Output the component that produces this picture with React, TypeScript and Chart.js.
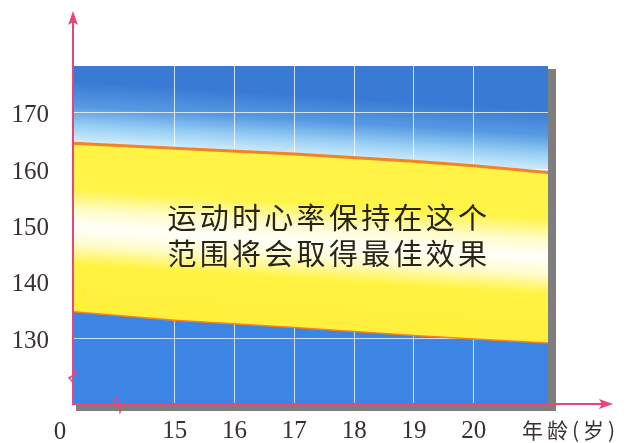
import React, { useEffect, useRef } from "react";
import { Chart, registerables } from "chart.js";

Chart.register(...registerables);

// ---- data ----
const ages = [13.3, 15, 17, 19, 20, 21.24];
const upperRate = [164.6, 163.7, 162.7, 161.4, 160.6, 159.4];
const lowerRate = [134.8, 133.3, 132.0, 130.6, 129.95, 129.25];
const xTickValues = [15, 16, 17, 18, 19, 20];
const yTickValues = [130, 140, 150, 160, 170];
const xRange = [13.3, 21.24];
const yRange = [118.3, 178.3];
const noteLines = ["运动时心率保持在这个", "范围将会取得最佳效果"];
const notePos = { x: 17.55, y: [151.4, 144.9] };
const xTitle = "年龄(岁)";
const originLabel = "0";

const PINK = "#e8457a";
const ORANGE = "rgb(246,128,36)";
const YELLOW = "rgb(255,242,62)";
const BLUE_BOTTOM = "rgb(60,133,228)";
const SERIF = "'Liberation Serif', 'DejaVu Serif', serif";
const CJK = "'Noto Sans CJK SC', sans-serif";

function lineEnds(chart: any, vals: number[]) {
  const x = chart.scales.x;
  const y = chart.scales.y;
  const n = vals.length - 1;
  return {
    xl: x.getPixelForValue(ages[0]),
    xr: x.getPixelForValue(ages[n]),
    yl: y.getPixelForValue(vals[0]),
    yr: y.getPixelForValue(vals[n]),
  };
}

function bandFill(c: any) {
  const chart = c.chart;
  if (!chart.chartArea || !chart.scales.x) return YELLOW;
  const u = lineEnds(chart, upperRate);
  const l = lineEnds(chart, lowerRate);
  const ctx = chart.ctx;
  const cx = (u.xl + u.xr) / 2;
  const cu = (u.yl + u.yr) / 2;
  const cl = (l.yl + l.yr) / 2;
  const dx = u.xr - u.xl;
  const dy = (u.yr + l.yr) / 2 - (u.yl + l.yl) / 2;
  const len = Math.hypot(dx, dy);
  const nx = -dy / len;
  const ny = dx / len;
  const th = (cl - cu) * ny;
  const cy = (cu + cl) / 2;
  const g = ctx.createLinearGradient(
    cx - (nx * th) / 2,
    cy - (ny * th) / 2,
    cx + (nx * th) / 2,
    cy + (ny * th) / 2
  );
  g.addColorStop(0, "rgb(255,243,70)");
  g.addColorStop(0.27, "rgb(255,244,72)");
  g.addColorStop(0.4, "rgb(255,252,205)");
  g.addColorStop(0.5, "rgb(255,255,250)");
  g.addColorStop(0.6, "rgb(255,252,205)");
  g.addColorStop(0.72, "rgb(255,243,66)");
  g.addColorStop(1, "rgb(255,240,60)");
  return g;
}

const decor = {
  id: "decor",
  beforeDraw(chart: any) {
    const { ctx, chartArea: ca } = chart;
    ctx.save();
    // shadow
    ctx.fillStyle = "rgb(126,126,126)";
    ctx.fillRect(ca.left + 3, ca.top + 3, ca.width + 5, ca.height + 4);
    // bottom blue
    ctx.fillStyle = BLUE_BOTTOM;
    ctx.fillRect(ca.left, ca.top, ca.width, ca.height);
    // upper gradient region
    const u = lineEnds(chart, upperRate);
    const l = lineEnds(chart, lowerRate);
    const dx = u.xr - u.xl;
    const dy = u.yr - u.yl;
    const len = Math.hypot(dx, dy);
    const nux = dy / len;
    const nuy = -dx / len;
    const g = ctx.createLinearGradient(u.xl, u.yl, u.xl + nux * 62, u.yl + nuy * 62);
    g.addColorStop(0, "rgb(214,240,252)");
    g.addColorStop(0.3, "rgb(150,205,243)");
    g.addColorStop(0.6, "rgb(86,153,226)");
    g.addColorStop(1, "rgb(57,123,212)");
    ctx.fillStyle = g;
    ctx.beginPath();
    ctx.moveTo(ca.left, ca.top);
    ctx.lineTo(ca.right, ca.top);
    ctx.lineTo(ca.right, (u.yr + l.yr) / 2);
    ctx.lineTo(ca.left, (u.yl + l.yl) / 2);
    ctx.closePath();
    ctx.fill();
    ctx.restore();
  },
  afterDraw(chart: any) {
    const { ctx, chartArea: ca, scales } = chart;
    ctx.save();
    // note text
    ctx.fillStyle = "rgb(40,36,24)";
    ctx.font = `29px ${CJK}`;
    ctx.textBaseline = "middle";
    ctx.textAlign = "center";
    noteLines.forEach((line, i) => {
      const cxp = scales.x.getPixelForValue(notePos.x);
      const cyp = scales.y.getPixelForValue(notePos.y[i]);
      const step = 32.3;
      const chars = Array.from(line);
      chars.forEach((ch, k) => {
        ctx.fillText(ch, cxp + (k - (chars.length - 1) / 2) * step, cyp);
      });
    });

    // axes
    ctx.strokeStyle = PINK;
    ctx.fillStyle = PINK;
    ctx.lineWidth = 2;
    const ox = ca.left;
    const oy = ca.bottom;
    ctx.beginPath();
    ctx.moveTo(ox, oy + 1);
    ctx.lineTo(ox, 22);
    ctx.moveTo(ox - 1, oy);
    ctx.lineTo(602, oy);
    ctx.stroke();
    // arrows
    ctx.beginPath();
    ctx.moveTo(ox, 11);
    ctx.lineTo(ox - 5, 25);
    ctx.lineTo(ox, 22);
    ctx.lineTo(ox + 5, 25);
    ctx.closePath();
    ctx.fill();
    ctx.beginPath();
    ctx.moveTo(613, oy);
    ctx.lineTo(599, oy - 5);
    ctx.lineTo(602, oy);
    ctx.lineTo(599, oy + 5);
    ctx.closePath();
    ctx.fill();
    // breaks
    ctx.lineWidth = 1.5;
    ctx.beginPath();
    ctx.moveTo(ox, 370);
    ctx.lineTo(ox + 4, 373);
    ctx.lineTo(ox - 4, 378);
    ctx.lineTo(ox, 382);
    ctx.stroke();
    ctx.beginPath();
    ctx.moveTo(113, oy);
    ctx.lineTo(117, oy - 7);
    ctx.lineTo(120, oy + 8);
    ctx.lineTo(123, oy);
    ctx.stroke();

    // origin and axis title
    ctx.fillStyle = "rgb(58,48,48)";
    ctx.font = `25px ${SERIF}`;
    ctx.textAlign = "center";
    ctx.textBaseline = "middle";
    ctx.fillText(originLabel, 60, 432);
    ctx.font = `21px ${CJK}`;
    ctx.textAlign = "left";
    (ctx as any).letterSpacing = "4px";
    ctx.fillText(xTitle, 522, 430);
    ctx.restore();
  },
};

export default function App() {
  const ref = useRef<HTMLCanvasElement | null>(null);
  useEffect(() => {
    document.body.style.margin = "0";
    const canvas = ref.current!;
    const chart = new Chart(canvas, {
      type: "line",
      data: {
        datasets: [
          {
            label: "upper",
            data: ages.map((a, i) => ({ x: a, y: upperRate[i] })),
            borderColor: ORANGE,
            borderWidth: 3,
            pointRadius: 0,
            fill: "+1",
            backgroundColor: bandFill as any,
            tension: 0,
          },
          {
            label: "lower",
            data: ages.map((a, i) => ({ x: a, y: lowerRate[i] })),
            borderColor: ORANGE,
            borderWidth: 3,
            pointRadius: 0,
            fill: false,
            tension: 0,
          },
        ],
      },
      options: {
        animation: false,
        responsive: false,
        maintainAspectRatio: false,
        layout: { padding: { top: 66, right: 78, left: 0, bottom: 0 } },
        plugins: { legend: { display: false }, tooltip: { enabled: false } },
        scales: {
          x: {
            type: "linear",
            min: xRange[0],
            max: xRange[1],
            z: 1,
            afterBuildTicks: (s: any) => {
              s.ticks = xTickValues.map((v) => ({ value: v }));
            },
            afterFit: (s: any) => {
              s.height = 35;
            },
            grid: { color: "rgba(255,255,255,0.75)", lineWidth: 1, drawTicks: false },
            border: { display: false },
            ticks: {
              padding: 12,
              color: "rgb(58,48,48)",
              font: { family: SERIF, size: 25 },
              maxRotation: 0,
              autoSkip: false,
            },
          },
          y: {
            type: "linear",
            min: yRange[0],
            max: yRange[1],
            z: 1,
            afterBuildTicks: (s: any) => {
              s.ticks = yTickValues.map((v) => ({ value: v }));
            },
            afterFit: (s: any) => {
              s.width = 73;
            },
            grid: { color: "rgba(255,255,255,0.75)", lineWidth: 1, drawTicks: false },
            border: { display: false },
            ticks: {
              padding: 24,
              labelOffset: 3,
              color: "rgb(58,48,48)",
              font: { family: SERIF, size: 25 },
              autoSkip: false,
            },
          },
        },
      },
      plugins: [decor],
    });
    return () => chart.destroy();
  }, []);
  return (
    <div style={{ position: "fixed", left: 0, top: 0, width: 626, height: 443, background: "#fff" }}>
      <canvas ref={ref} width={626} height={443} style={{ width: 626, height: 443 }} />
    </div>
  );
}
